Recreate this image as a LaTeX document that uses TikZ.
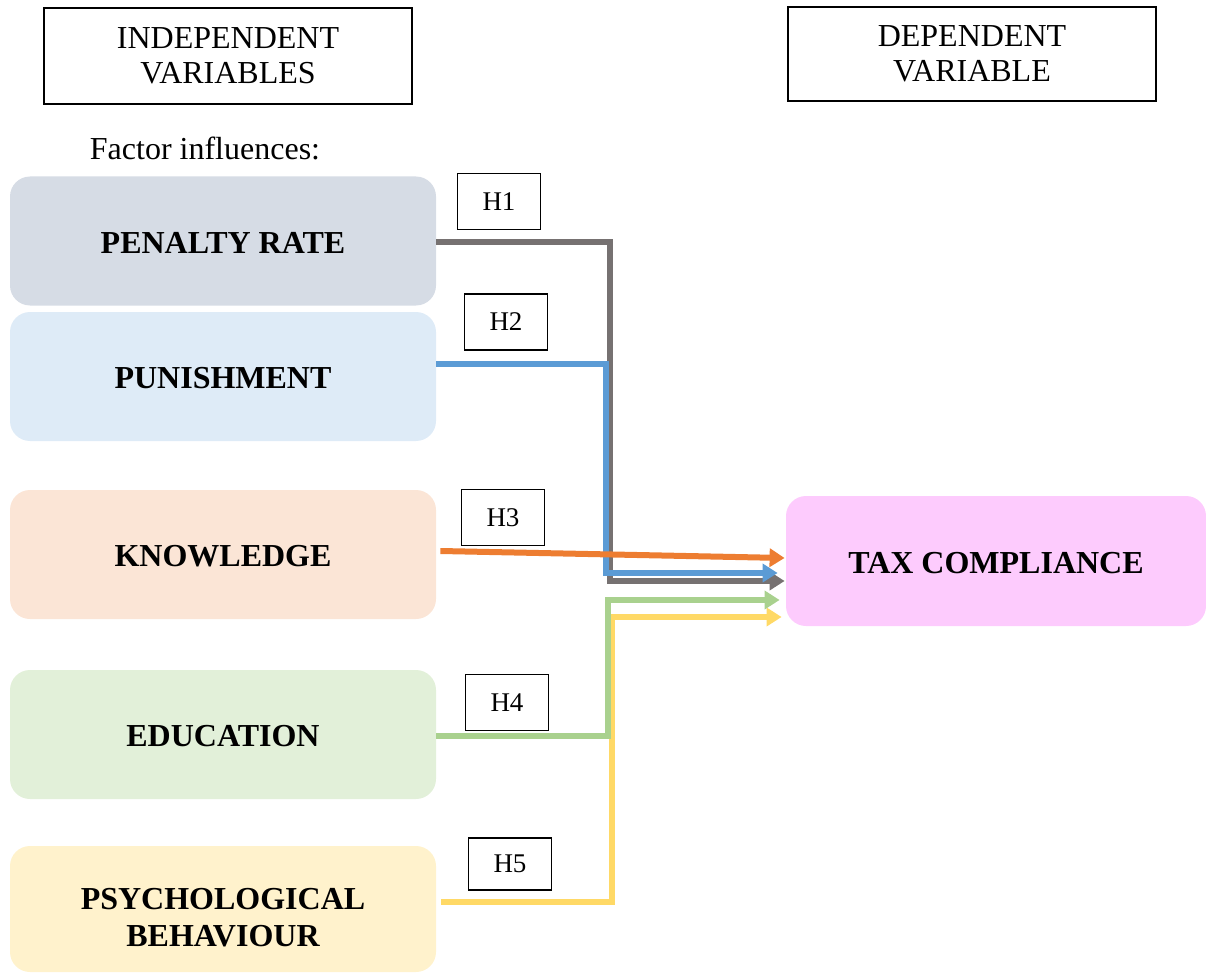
\documentclass[tikz,border=0pt]{standalone}
\usepackage{fontspec}
\setmainfont{Liberation Serif}
\usetikzlibrary{arrows.meta,calc}
\definecolor{penfill}{HTML}{D6DCE5}
\definecolor{punfill}{HTML}{DEEBF7}
\definecolor{knowfill}{HTML}{FBE5D6}
\definecolor{edufill}{HTML}{E2F0D9}
\definecolor{psyfill}{HTML}{FFF2CC}
\definecolor{taxfill}{HTML}{FDCBFD}
\definecolor{penline}{HTML}{767171}
\definecolor{punline}{HTML}{5B9BD5}
\definecolor{knowline}{HTML}{ED7D31}
\definecolor{eduline}{HTML}{A9D18E}
\definecolor{psyline}{HTML}{FFD966}
\begin{document}
\begin{tikzpicture}[x=0.5pt,y=-0.5pt,
    title/.style={draw,line width=0.75pt,align=center,inner sep=0pt,
      minimum width=184pt,minimum height=48pt,font=\fontsize{16}{17.5}\selectfont},
    factor/.style={rounded corners=10pt,inner sep=0pt,align=center,
      minimum width=213pt,minimum height=64.5pt,text height=12pt,text depth=0pt,
      font=\fontsize{16}{18.5}\selectfont\bfseries},
    hyp/.style={draw,line width=0.75pt,inner sep=0pt,
      minimum width=41.5pt,minimum height=28pt,font=\fontsize{13.5}{15}\selectfont},
    link/.style={line width=3pt,-{Triangle[length=7.5pt,width=9pt]}}]
    \useasboundingbox (0,0) rectangle (1206,974);
    \node[title] (indep) at (228,56) {INDEPENDENT\\VARIABLES};
    \node[title,minimum height=47pt] (dep) at (972,54) {DEPENDENT\\VARIABLE};
    \node[font=\fontsize{16}{18}\selectfont] (infl) at (205,148) {Factor influences:};

    \node[factor,fill=penfill] (pen)  at (223,241)   {PENALTY RATE};
    \node[factor,fill=punfill] (pun)  at (223,376.5) {PUNISHMENT};
    \node[factor,fill=knowfill] (know) at (223,554.5) {KNOWLEDGE};
    \node[factor,fill=edufill] (edu)  at (223,734.5) {EDUCATION};
    \node[factor,fill=psyfill,minimum height=63pt,text height=37pt] (psy) at (223,909) {PSYCHOLOGICAL\\BEHAVIOUR};
    \node[factor,fill=taxfill,minimum width=210pt,minimum height=65pt] (tax) at (996,561) {TAX COMPLIANCE};

    \node[hyp] (h1) at (499,201.5) {H1};
    \node[hyp] (h2) at (506,322)   {H2};
    \node[hyp] (h3) at (503,517.5) {H3};
    \node[hyp] (h4) at (507,702.5) {H4};
    \node[hyp,minimum height=26pt] (h5) at (510,864) {H5};

    \draw[link,penline]  ($(pen.east)+(0,1)$)    -- ++(174,0) |- ($(tax.west)+(-1,20)$);
    \draw[link,punline]  ($(pun.east)+(0,-12.5)$) -- ++(170,0) |- ($(tax.west)+(-8,12)$);
    \draw[link,knowline] ($(know.east)+(4,-3.5)$) -- ($(tax.west)+(-1,-3)$);
    \draw[link,psyline]  ($(psy.east)+(5,-7)$)   -- ++(171,0) |- ($(tax.west)+(-4,56)$);
    \draw[link,eduline]  ($(edu.east)+(0,1.5)$)  -- ++(171.5,0) |- ($(tax.west)+(-6,39)$);
\end{tikzpicture}
\end{document}
